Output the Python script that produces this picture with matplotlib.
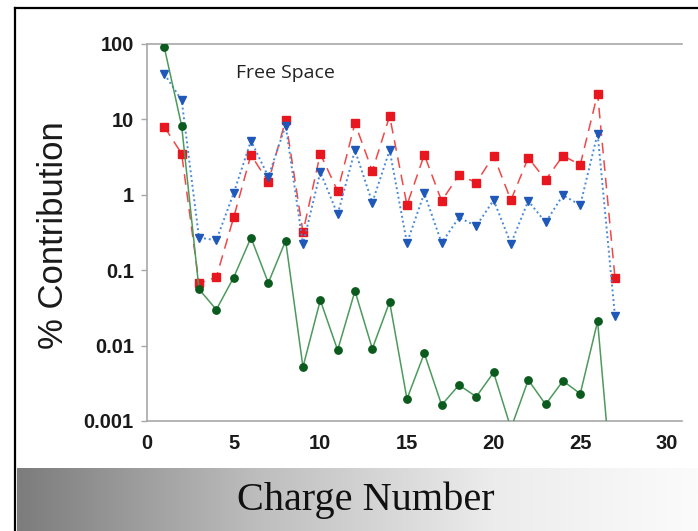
import numpy as np
import matplotlib
matplotlib.use('Agg')
import matplotlib.pyplot as plt
from matplotlib.lines import Line2D
from matplotlib.colors import LinearSegmentedColormap

# charge numbers 1..27
charge = list(range(1, 28))

# % contribution per charge state
green_vals = [90, 8.2, 0.056, 0.030, 0.080, 0.27, 0.068, 0.246, 0.0052, 0.040,
              0.0087, 0.053, 0.0091, 0.038, 0.00196, 0.0079, 0.00163, 0.0030, 0.0021, 0.0044,
              0.0008, 0.0035, 0.00166, 0.0034, 0.0023, 0.021, 0.00005]
red_vals = [8.0, 3.5, 0.067, 0.081, 0.50, 3.4, 1.47, 9.8, 0.32, 3.5,
            1.12, 8.9, 2.07, 11.1, 0.73, 3.4, 0.83, 1.83, 1.45, 3.3,
            0.85, 3.1, 1.57, 3.3, 2.5, 22, 0.08]
blue_vals = [40, 18, 0.27, 0.25, 1.05, 5.2, 1.74, 8.3, 0.22, 2.0,
             0.55, 3.9, 0.79, 3.9, 0.23, 1.05, 0.23, 0.50, 0.385, 0.85,
             0.225, 0.83, 0.43, 0.99, 0.73, 6.5, 0.025]

xticks = [0, 5, 10, 15, 20, 25, 30]
yticks = [0.001, 0.01, 0.1, 1, 10, 100]
ytick_labels = ['0.001', '0.01', '0.1', '1', '10', '100']

W, H = 698, 531
fig = plt.figure(figsize=(W / 100, H / 100), dpi=100)
fig.patch.set_facecolor('white')

#----- gray gradient band at the bottom -----
band = fig.add_axes([17 / W, 0, 1 - 17 / W, (H - 468) / H])
cmap = LinearSegmentedColormap.from_list('band', [(0.0, '#7c7c7c'), (0.35, '#bdbdbd'),
                                                  (0.7, '#ececec'), (1.0, '#fbfbfb')])
grad = np.linspace(0, 1, 256).reshape(1, -1)
band.imshow(grad, aspect='auto', cmap=cmap, extent=[0, 1, 0, 1])
band.set_axis_off()

#----- main plot -----
ax = fig.add_axes([147 / W, 1 - 421 / H, (682 - 147) / W, (421 - 44) / H])
ax.set_yscale('log')

ax.plot(charge, red_vals, color='#f04848', lw=1.1, ls=(0, (7, 4.5)),
        marker='s', ms=6.3, mfc='#e8161e', mec='#e8161e', zorder=3)
ax.plot(charge, blue_vals, color='#4a8ad8', lw=1.4, ls=(0, (1, 1.5)),
        marker='v', ms=6.3, mfc='#1f58b8', mec='#1f58b8', zorder=4)
ax.plot(charge, green_vals, color='#4c9a5c', lw=1.1, ls='-',
        marker='o', ms=5.3, mfc='#0b5a1e', mec='#0b5a1e', zorder=5)

ax.set_xlim(0, 30.87)
ax.set_ylim(0.001, 100)
ax.set_xticks(xticks)
ax.set_xticklabels([str(t) for t in xticks])
ax.set_yticks(yticks)
ax.set_yticklabels(ytick_labels)
ax.minorticks_off()

for s in ['left', 'bottom', 'top']:
    ax.spines[s].set_color('#a8a8a8')
    ax.spines[s].set_linewidth(1.2)
ax.spines['right'].set_visible(False)

ax.tick_params(axis='y', length=4, width=1, color='#a8a8a8', pad=5.5)
ax.tick_params(axis='x', length=0, pad=9.5)
for lab in ax.get_xticklabels() + ax.get_yticklabels():
    lab.set_fontfamily('Liberation Sans')
    lab.set_fontweight('bold')
    lab.set_fontsize(14.5)
    lab.set_color('#1a1a1a')

ax.text(236 / W, 1 - 73 / H, 'Free Space', transform=fig.transFigure,
        fontsize=14, family='Open Sans', color='#222222', va='center', ha='left')

fig.text(54 / W, 1 - 235 / H, '% Contribution', rotation=90, fontsize=25,
         family='Liberation Sans', color='#1a1a1a', ha='center', va='center')
fig.text(366 / W, 1 - 500 / H, 'Charge Number', fontsize=29,
         family='Liberation Serif', color='#111111', ha='center', va='center')

# black frame (top and left)
fig.add_artist(Line2D([15 / W, 1], [1 - 7.5 / H, 1 - 7.5 / H], transform=fig.transFigure,
                      color='black', lw=1.6))
fig.add_artist(Line2D([15 / W, 15 / W], [0, 1 - 7.5 / H], transform=fig.transFigure,
                      color='black', lw=1.6))

fig.savefig('out.png', dpi=100)
